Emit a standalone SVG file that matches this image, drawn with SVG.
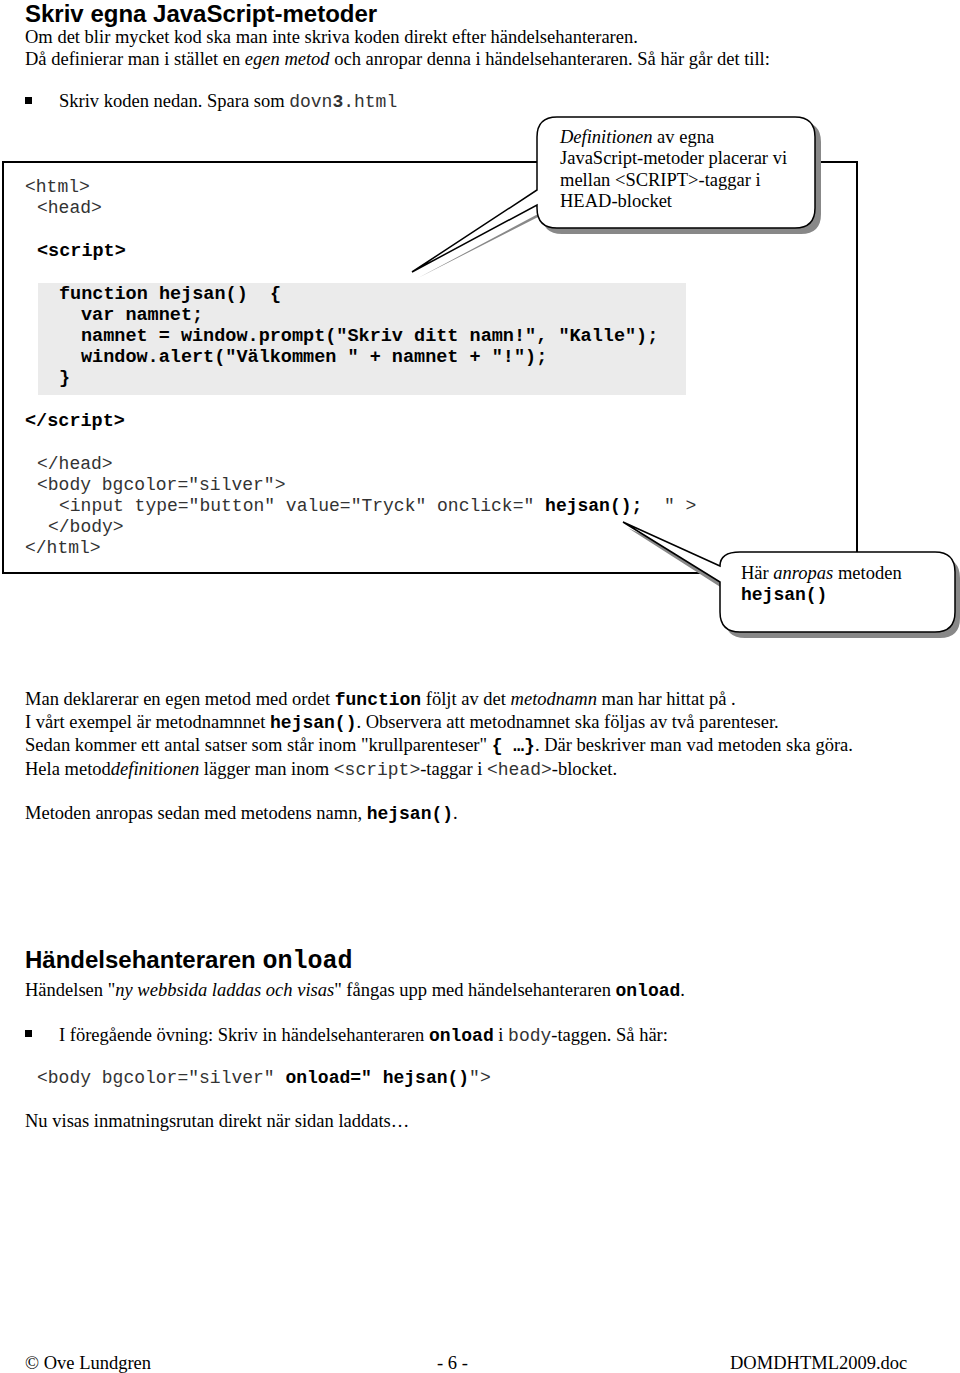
<svg xmlns="http://www.w3.org/2000/svg" width="960" height="1373" viewBox="0 0 960 1373">
<style>
.s{font-family:"Liberation Serif",serif;font-size:18.5px;fill:#000}
.m{font-family:"Liberation Mono",monospace;font-size:18px;font-weight:normal;fill:#333}
.mb{font-family:"Liberation Mono",monospace;font-size:18.5px;font-weight:bold;fill:#000}
.b{font-family:"Liberation Mono",monospace;font-size:18px;font-weight:bold;fill:#000}
.h{font-family:"Liberation Sans",sans-serif;font-size:24px;font-weight:bold}
.fr{stroke:#000;stroke-width:2;fill:none}
.co{fill:#fff;stroke:#000;stroke-width:1.5}
.sh{fill:#888}
</style>
<rect width="960" height="1373" fill="#fff"/>
<text class="h" x="25" y="22">Skriv egna JavaScript-metoder</text>
<text class="s" x="25" y="43">Om det blir mycket kod ska man inte skriva koden direkt efter händelsehanteraren.</text>
<text class="s" x="25" y="65">Då definierar man i stället en <tspan font-style="italic">egen metod</tspan> och anropar denna i händelsehanteraren. Så här går det till:</text>
<rect x="25" y="97" width="7" height="7"/>
<text class="s" x="59" y="107">Skriv koden nedan.  Spara som <tspan class="m">dovn<tspan font-weight="bold">3</tspan>.html</tspan></text>
<g id="frame">
<path class="fr" d="M537 162 H3 V573 H720 M815 162 H857 V553"/>
</g>
<rect x="38" y="283" width="648" height="112" fill="#ebebeb"/>
<g id="code">
<text class="m" x="25" y="192">&lt;html&gt;</text>
<text class="m" x="37" y="213">&lt;head&gt;</text>
<text class="mb" x="37" y="256">&lt;script&gt;</text>
<text class="mb" x="59" y="299" xml:space="preserve">function hejsan()  {</text>
<text class="mb" x="81" y="320">var namnet;</text>
<text class="mb" x="81" y="341">namnet = window.prompt("Skriv ditt namn!", "Kalle");</text>
<text class="mb" x="81" y="362">window.alert("Välkommen " + namnet + "!");</text>
<text class="mb" x="59" y="383">}</text>
<text class="mb" x="25" y="426">&lt;/script&gt;</text>
<text class="m" x="37" y="469">&lt;/head&gt;</text>
<text class="m" x="37" y="490">&lt;body bgcolor="silver"&gt;</text>
<text class="m" x="59" y="511" xml:space="preserve">&lt;input type="button" value="Tryck" onclick=" <tspan class="b">hejsan();</tspan>  " &gt;</text>
<text class="m" x="48" y="532">&lt;/body&gt;</text>
<text class="m" x="25" y="553">&lt;/html&gt;</text>
</g>
<g id="callout1">
<path class="sh" d="M562 122 H801 Q821 122 821 142 V214 Q821 234 801 234 H562 Q542 234 542 214 V215 L418 278 L553 206 V142 Q542 122 562 122Z"/>
<path class="co" d="M557 117 H795 Q815 117 815 137 V208 Q815 228 795 228 H557 Q537 228 537 208 V205 L412 272 L537 190 V137 Q537 117 557 117Z"/>
<text class="s" x="560" y="143"><tspan font-style="italic">Definitionen</tspan> av egna</text>
<text class="s" x="560" y="164">JavaScript-metoder placerar vi</text>
<text class="s" x="560" y="186">mellan &lt;SCRIPT&gt;-taggar i</text>
<text class="s" x="560" y="207">HEAD-blocket</text>
</g>
<g id="callout2">
<path class="sh" d="M745 558 H940 Q960 558 960 578 V618 Q960 638 940 638 H745 Q725 638 725 618 V590 L628 528 L725 572 Q725 558 745 558Z"/>
<path class="co" d="M740 552 H935 Q955 552 955 572 V612 Q955 632 935 632 H740 Q720 632 720 612 V582 L623 522 L720 566 Q720 552 740 552Z"/>
<text class="s" x="741" y="579">Här <tspan font-style="italic">anropas</tspan> metoden</text>
<text class="b" x="741" y="600">hejsan()</text>
</g>
<text class="s" x="25" y="705">Man deklarerar en egen metod med ordet  <tspan class="b">function</tspan>  följt av det <tspan font-style="italic">metodnamn</tspan> man har hittat på .</text>
<text class="s" x="25" y="728">I vårt exempel är metodnamnnet <tspan class="b">hejsan()</tspan>. Observera att metodnamnet ska följas av två parenteser.</text>
<text class="s" x="25" y="751">Sedan kommer ett antal satser som står inom "krullparenteser" <tspan class="b">{ …}</tspan>. Där beskriver man vad metoden ska göra.</text>
<text class="s" x="25" y="775">Hela metod<tspan font-style="italic">definitionen</tspan> lägger man inom <tspan class="m">&lt;script&gt;</tspan>-taggar  i  <tspan class="m">&lt;head&gt;</tspan>-blocket.</text>
<text class="s" x="25" y="819">Metoden anropas sedan med metodens namn, <tspan class="b">hejsan()</tspan>.</text>
<text class="h" x="25" y="968">Händelsehanteraren <tspan font-family="Liberation Mono,monospace" font-size="25">onload</tspan></text>
<text class="s" x="25" y="996">Händelsen  "<tspan font-style="italic">ny webbsida laddas och visas</tspan>"  fångas upp med händelsehanteraren <tspan class="b">onload</tspan>.</text>
<rect x="25" y="1030" width="7" height="7"/>
<text class="s" x="59" y="1041">I föregående övning:  Skriv in händelsehanteraren <tspan class="b">onload</tspan> i <tspan class="m">body</tspan>-taggen. Så här:</text>
<text class="m" x="37" y="1083">&lt;body bgcolor="silver" <tspan class="b">onload=" hejsan()</tspan>"&gt;</text>
<text class="s" x="25" y="1127">Nu visas inmatningsrutan direkt när sidan laddats…</text>
<text class="s" x="25" y="1369" font-size="14">© Ove Lundgren</text>
<text class="s" x="437" y="1369" font-size="14">- 6 -</text>
<text class="s" x="730" y="1369" font-size="14">DOMDHTML2009.doc</text>
</svg>
